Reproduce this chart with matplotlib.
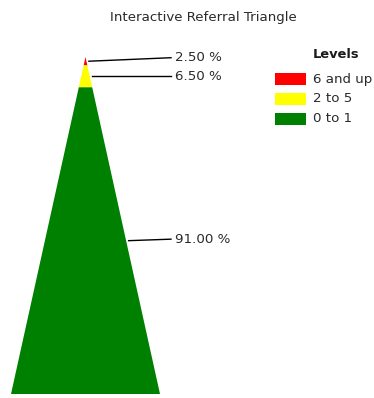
import matplotlib
matplotlib.use("Agg")
import matplotlib.pyplot as plt
from matplotlib.patches import Polygon, Rectangle

title = "Interactive Referral Triangle"
levels = ["6 and up", "2 to 5", "0 to 1"]
shares = [2.5, 6.5, 91.0]
colors = ["#FF0000", "#FFFF00", "#008000"]

# layout in pixels (figure is 374x398)
W, H = 374, 398
apex_x, apex_y = 85.5, 57
base_y, half_base = 394, 74.5
label_end_x = 171
label_dy = [-3.5, 0, -1.5]   # nudge so the two small labels don't collide
font = "DejaVu Sans"
fs = 9.6

fig = plt.figure(figsize=(W / 100, H / 100), dpi=100)
ax = fig.add_axes([0, 0, 1, 1])
ax.set_xlim(0, W)
ax.set_ylim(H, 0)
ax.axis("off")

height = base_y - apex_y
total = sum(shares)
cum = 0.0
for i, (lvl, s, c) in enumerate(zip(levels, shares, colors)):
    f0 = cum / total
    f1 = (cum + s) / total
    cum += s
    y0 = apex_y + f0 * height
    y1 = apex_y + f1 * height
    w0 = f0 * half_base
    w1 = f1 * half_base
    ax.add_patch(Polygon([(apex_x - w0, y0), (apex_x + w0, y0),
                          (apex_x + w1, y1), (apex_x - w1, y1)],
                         closed=True, facecolor=c, edgecolor="none"))
    fm = (f0 + f1) / 2
    ym = apex_y + fm * height
    xe = apex_x + fm * half_base + 2.5
    ax.plot([xe, label_end_x], [ym, ym + label_dy[i]], color="black", lw=1)
    ax.text(label_end_x + 4, ym + label_dy[i], f"{s:.2f} %", fontsize=fs,
            family=font, color="#2a2a2a", va="center", ha="left")

ax.text(W / 2 + 16, 18, title, fontsize=fs, family=font, color="#2a2a2a",
        ha="center", va="center")

# legend
ax.text(336.5, 55, "Levels", fontsize=9.4, family=font, weight="bold",
        color="#1a1a1a", ha="center", va="center")
for i, (lvl, c) in enumerate(zip(levels, colors)):
    yc = 79 + i * 20
    ax.add_patch(Rectangle((275, yc - 6), 31, 12, facecolor=c, edgecolor="none"))
    ax.text(313, yc, lvl, fontsize=fs, family=font, color="#2a2a2a",
            ha="left", va="center")

fig.savefig("out.png", dpi=100)
